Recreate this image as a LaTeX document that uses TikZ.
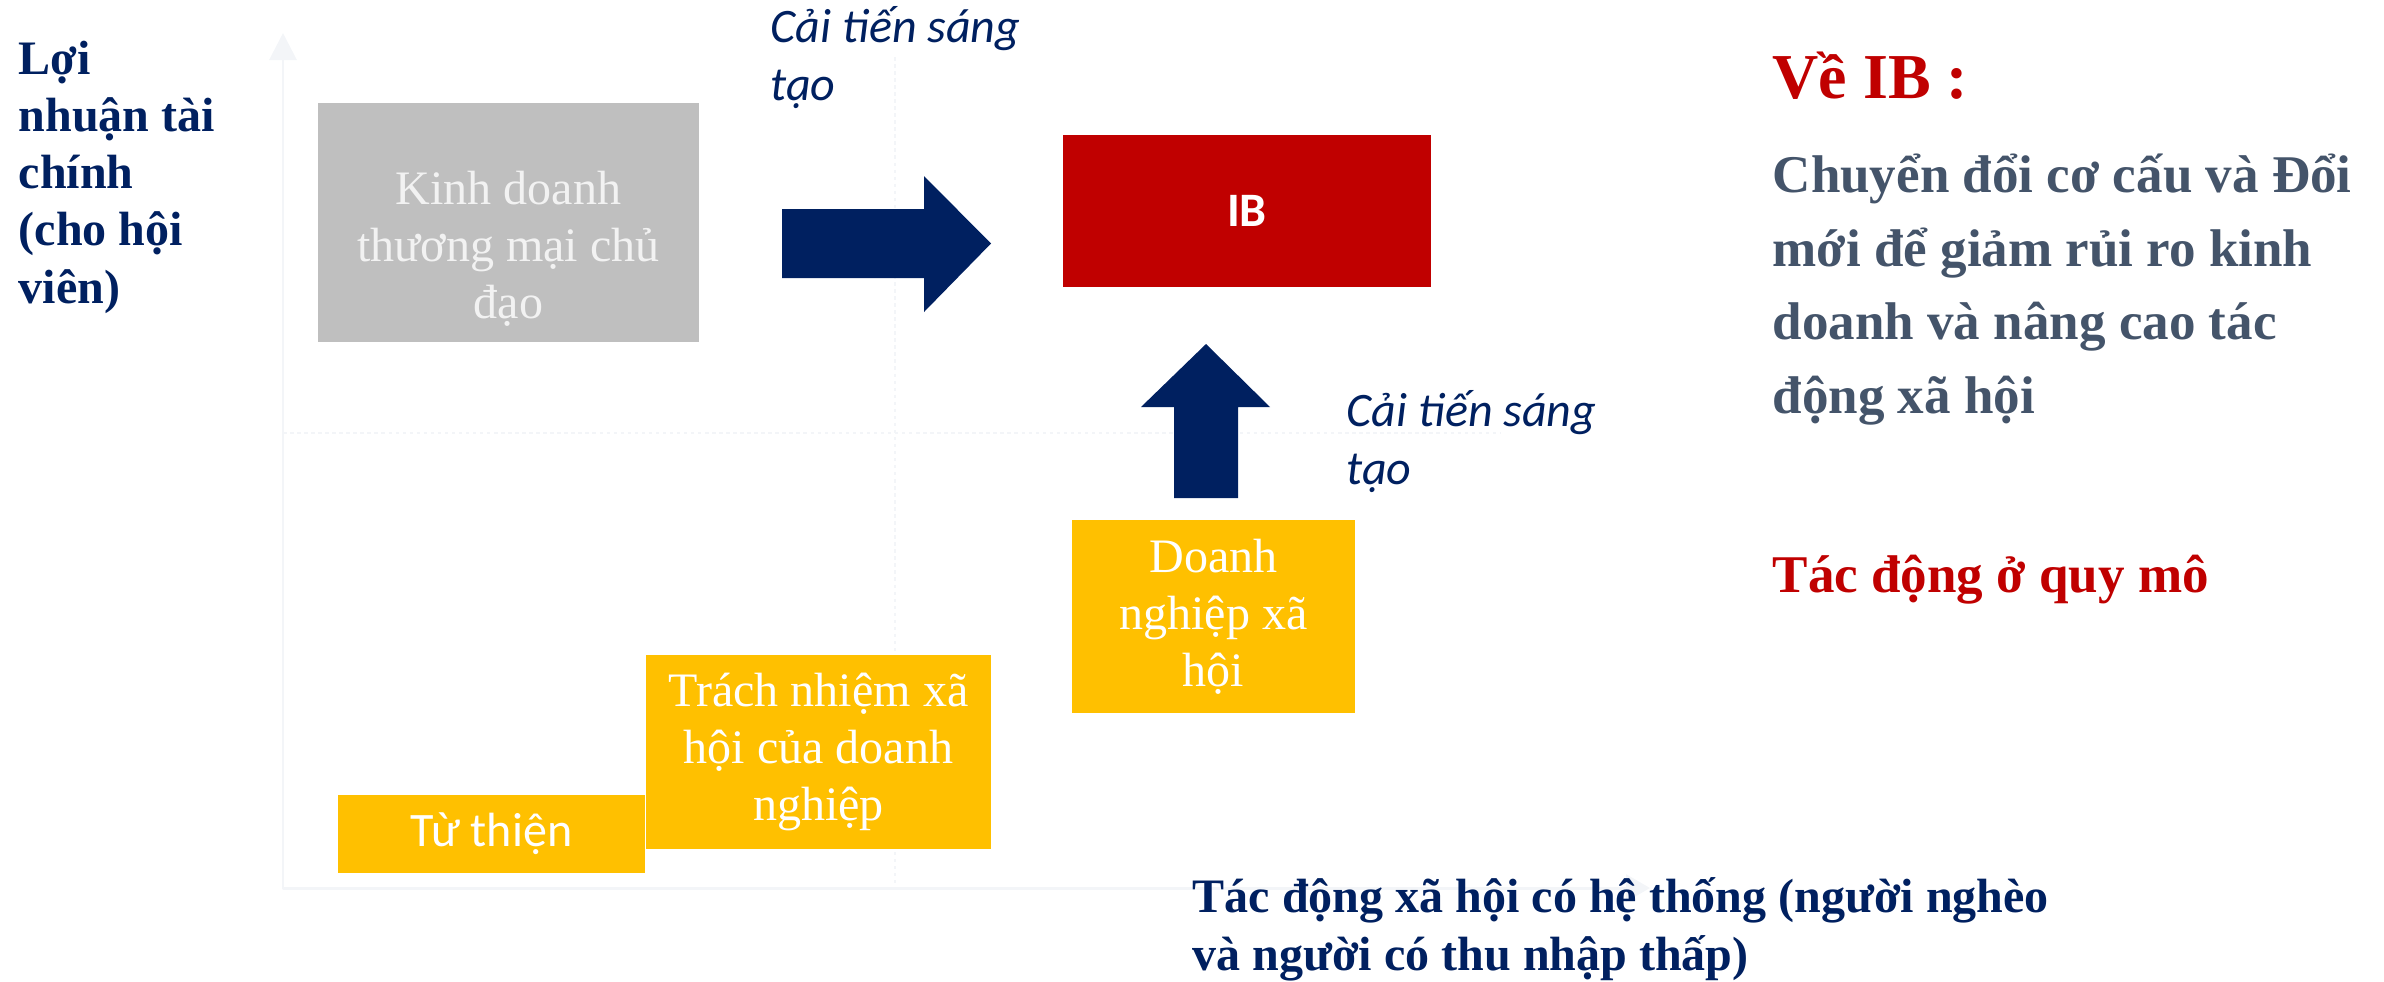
\documentclass[tikz,border=0pt]{standalone}
\usepackage{fontspec}
\setmainfont{Liberation Serif}
\newfontfamily\calibri{Carlito}
\usetikzlibrary{arrows.meta}
\definecolor{navyblue}{HTML}{002060}
\definecolor{ibred}{HTML}{C00000}
\definecolor{boxgold}{HTML}{FFC000}
\definecolor{boxgray}{HTML}{BFBFBF}
\definecolor{lighttext}{HTML}{F2F2F2}
\definecolor{slate}{HTML}{44546A}
\definecolor{axisgray}{HTML}{F3F5F8}
\newcommand{\smallsize}{\fontsize{13.66}{16.22}\selectfont}
\newcommand{\panelsize}{\fontsize{15.08}{20.9}\selectfont}
\newcommand{\headsize}{\fontsize{18.2}{22}\selectfont}

\begin{document}
\begin{tikzpicture}[x=0.01cm,y=-0.01cm,
    axisline/.style={draw=axisgray, line width=0.85pt, line join=round},
    gridline/.style={draw=axisgray, line width=0.5pt, dash pattern=on 1pt off 1pt},
    block/.style={inner sep=0pt, align=center, text=white, font=\smallsize},
    goldbox/.style={block, fill=boxgold},
    blockarrow/.style={fill=navyblue},
    note/.style={anchor=base west, align=left, inner sep=0pt}]
  \useasboundingbox (0,0) rectangle (2384,981);

  % axes and quadrant lines
  \draw[gridline] (895,57) -- (895,888);
  \draw[gridline] (283,433) -- (1500,433);
  \draw[axisline, {Triangle[width=0.27cm,length=0.27cm]}-{Triangle[width=0.27cm,length=0.24cm]}]
    (283,33) -- (283,888) -- (1650,888);

  % boxes
  \node[block, fill=boxgray, minimum width=3.81cm, minimum height=2.39cm] (kd) at (508.5,222.5) {};
  \node[block, text=lighttext] (kdtext) at ([yshift=-0.265cm]kd.center) {Kinh doanh\\thương mại chủ\\đạo};
  \node[block, fill=ibred, minimum width=3.68cm, minimum height=1.51cm, font=\smallsize\calibri\bfseries] (ib) at (1247,211) {IB};
  \node[goldbox, minimum width=2.83cm, minimum height=1.93cm] (dn) at (1213.5,616.5) {Doanh\\nghiệp xã\\hội};
  \node[goldbox, minimum width=3.07cm, minimum height=0.78cm, font=\smallsize\calibri] (tt) at (491.5,834) {Từ thiện};
  \node[goldbox, minimum width=3.45cm, minimum height=1.94cm] (tn) at (818.5,752) {Trách nhiệm xã\\hội của doanh\\nghiệp};

  % block arrows
  \fill[blockarrow] (782,209) -- (924,209) -- (924,176) -- (991,243.5) -- (924,312) -- (924,278) -- (782,278) -- cycle;
  \fill[blockarrow] (1174,498) -- (1174,407) -- (1141,407) -- (1206,344) -- (1270,407) -- (1238,407) -- (1238,498) -- cycle;

  % labels (anchored at the last baseline)
  \node[note, text=navyblue, font=\smallsize\bfseries] (profit) at (18,303) {Lợi\\nhuận tài\\chính\\(cho hội\\viên)};
  \node[note, text=navyblue, font=\smallsize\calibri\itshape] (innov1) at (770,100) {Cải tiến sáng\\tạo};
  \node[note, text=navyblue, font=\smallsize\calibri\itshape] (innov2) at (1346,484) {Cải tiến sáng\\tạo};
  \node[note, text=navyblue, font=\smallsize\bfseries] (impact) at (1192,970) {Tác động xã hội có hệ thống (người nghèo\\và người có thu nhập thấp)};

  % right panel
  \node[note, text=ibred, font=\headsize\bfseries] (about) at (1772,98) {Về IB :};
  \node[note, text=slate, font=\panelsize\bfseries] (desc) at (1772,413) {Chuyển đổi cơ cấu và Đổi\\mới để giảm rủi ro kinh\\doanh và nâng cao tác\\động xã hội};
  \node[note, text=ibred, font=\panelsize\bfseries] (scale) at (1772,592) {Tác động ở quy mô};
\end{tikzpicture}
\end{document}
